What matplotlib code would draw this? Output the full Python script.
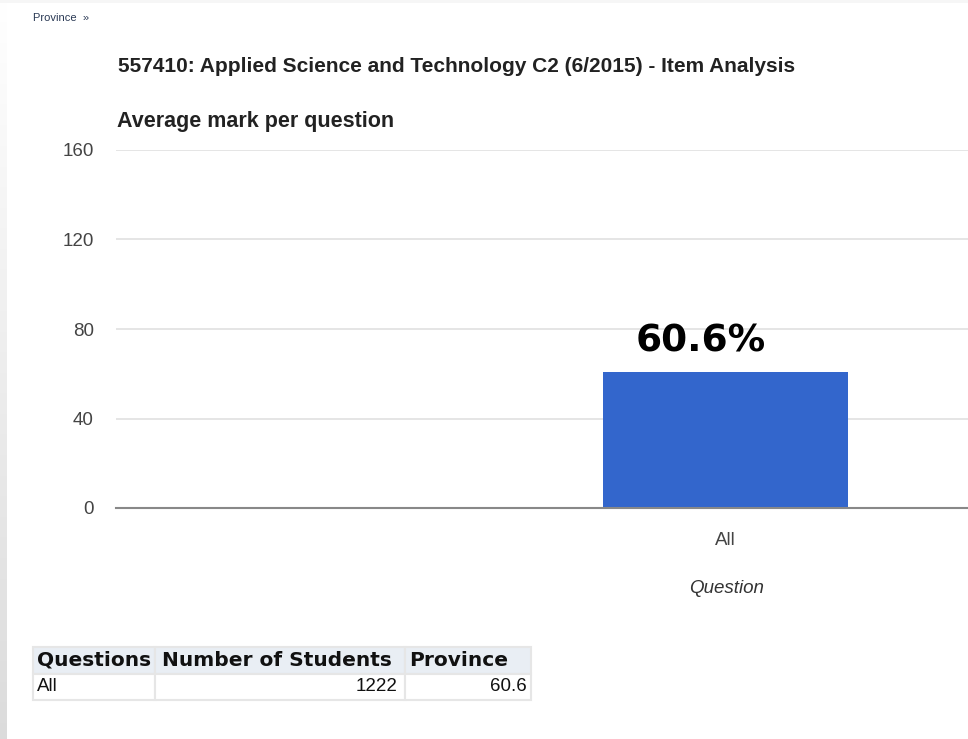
import numpy as np
import matplotlib.pyplot as plt

# chart data
categories = ["All"]
avg_marks = [60.6]
bar_labels = ["60.6%"]
y_ticks = [0, 40, 80, 120, 160]

# table data
col_labels = ["Questions", "Number of Students", "Province"]
questions = ["All"]
num_students = [1222]
province = [60.6]

W, H = 968, 739
fig = plt.figure(figsize=(W / 100, H / 100), dpi=100)
fig.patch.set_facecolor("white")

def fx(px):
    return px / W

def fy(py):
    return 1 - py / H

# greyish page edge on the left, fading in towards the bottom
edge = fig.add_axes([0, 0, fx(7), 1])
grad = np.linspace(1.0, 0.86, 256).reshape(-1, 1)
edge.imshow(np.dstack([grad, grad, grad]), aspect="auto", extent=[0, 1, 0, 1])
edge.axis("off")
top = fig.add_axes([0, fy(3), 1, 3 / H])
top.axis("off")
top.add_patch(plt.Rectangle((0, 0), 1, 1, color="#f6f6f6", transform=top.transAxes))

font = "Liberation Sans"

fig.text(fx(33), fy(18), "Province  \u00bb", fontsize=8, color="#2b3a55",
         family=font, va="center")
fig.text(fx(118), fy(66), "557410: Applied Science and Technology C2 (6/2015) - Item Analysis",
         fontsize=15, fontweight="bold", color="#222222", family=font, va="center")
fig.text(fx(117), fy(121), "Average mark per question", fontsize=15.5,
         fontweight="bold", color="#222222", family=font, va="center")

# main chart; the plot area runs off the right edge of the screenshot
ax = fig.add_axes([fx(116), fy(508), fx(W - 116), fy(150) - fy(508)])
x = np.arange(len(categories))
ax.bar(x, avg_marks, width=0.4, color="#3366cc", zorder=3)
ax.set_xlim(-0.998, 0.397)
ax.set_ylim(0, 160)
ax.set_yticks(y_ticks)
ax.set_yticklabels([str(t) for t in y_ticks], family=font, fontsize=13.5, color="#444444")
ax.set_xticks(x)
ax.set_xticklabels(categories, family=font, fontsize=13.5, color="#444444")
ax.tick_params(axis="both", length=0)
ax.tick_params(axis="y", pad=16)
ax.tick_params(axis="x", pad=17)
ax.grid(axis="y", color="#e0e0e0", linewidth=1.2, zorder=0)
for s in ["top", "right", "left"]:
    ax.spines[s].set_visible(False)
ax.spines["bottom"].set_color("#888888")
ax.spines["bottom"].set_linewidth(1.5)
ax.spines["bottom"].set_zorder(4)
ax.set_xlabel("Question", family=font, fontsize=13.5, style="italic", color="#333333")
ax.xaxis.set_label_coords(0.716, -0.20)

for xi, v, lab in zip(x, avg_marks, bar_labels):
    ax.annotate(lab, (xi, v), xytext=(-18, 9), textcoords="offset points",
                ha="center", va="bottom", fontsize=27, fontweight="bold",
                family="DejaVu Sans", color="black")

# summary table below
tax = fig.add_axes([fx(33), fy(700), fx(531 - 33), fy(647) - fy(700)])
tax.axis("off")
rows = [[q, str(n), f"{p:.1f}"] for q, n, p in zip(questions, num_students, province)]
tbl = tax.table(cellText=rows, colLabels=col_labels, bbox=[0, 0, 1, 1],
                colWidths=[122 / 498, 250 / 498, 126 / 498])
tbl.auto_set_font_size(False)
for (r, c), cell in tbl.get_celld().items():
    cell.set_edgecolor("#e6e6e6")
    cell.set_linewidth(1.5)
    txt = cell.get_text()
    txt.set_color("#111111")
    cell.PAD = 0.03
    if r == 0:
        cell.set_facecolor("#e9eef4")
        txt.set_fontfamily("DejaVu Sans")
        txt.set_fontsize(14.5)
        txt.set_fontweight("bold")
        cell._loc = "left"
        txt.set_ha("left")
    else:
        cell.set_facecolor("white")
        txt.set_fontfamily(font)
        txt.set_fontsize(13.5)
        if c == 0:
            cell._loc = "left"
            txt.set_ha("left")
        else:
            cell._loc = "right"
            txt.set_ha("right")

fig.savefig("out.png", dpi=100)
